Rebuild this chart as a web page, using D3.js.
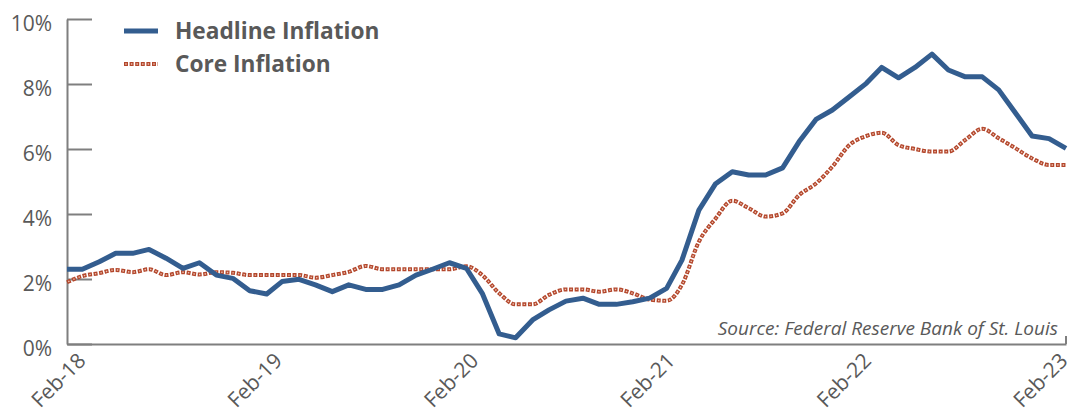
<!DOCTYPE html>
<html>
<head>
<meta charset="utf-8">
<script src="https://cdn.jsdelivr.net/npm/d3@7"></script>
<style>
  body { margin: 0; background: #fff; }
  svg text { font-family: "Open Sans", "Noto Sans", sans-serif; fill: #595959; }
</style>
</head>
<body>
<svg id="chart" width="1068" height="408"></svg>
<script>
// monthly YoY inflation, Feb-18 .. Feb-23
var headline = [2.30,2.30,2.53,2.79,2.79,2.91,2.64,2.33,2.50,2.12,2.02,1.64,
                1.54,1.92,1.99,1.82,1.61,1.82,1.68,1.68,1.82,2.12,2.30,2.50,
                2.33,1.56,0.31,0.19,0.74,1.05,1.32,1.41,1.22,1.22,1.30,1.41,
                1.71,2.58,4.12,4.92,5.30,5.20,5.20,5.42,6.22,6.91,7.20,7.61,
                8.02,8.51,8.19,8.51,8.92,8.43,8.22,8.22,7.82,7.10,6.40,6.32,
                6.02];
var core = [1.90,2.09,2.18,2.28,2.21,2.30,2.12,2.21,2.14,2.21,2.19,2.12,
            2.12,2.12,2.12,2.04,2.12,2.22,2.40,2.30,2.30,2.30,2.30,2.30,
            2.39,2.12,1.56,1.22,1.22,1.51,1.68,1.68,1.61,1.68,1.56,1.37,
            1.33,1.82,3.15,3.85,4.41,4.18,3.92,4.02,4.58,4.94,5.46,6.12,
            6.40,6.50,6.12,6.00,5.92,5.92,6.28,6.62,6.33,6.02,5.71,5.51,
            5.51];
var yTicks = [0,2,4,6,8,10];
var xLabels = ["Feb-18","Feb-19","Feb-20","Feb-21","Feb-22","Feb-23"];
var seriesNames = ["Headline Inflation","Core Inflation"];
var sourceText = "Source: Federal Reserve Bank of St. Louis";

var months = d3.timeMonth.range(new Date(2018,1,1), new Date(2023,2,1));

var blue = "#335d8f", red = "#b3472c", axisGray = "#7f7f7f";

var svg = d3.select("#chart");

var x = d3.scaleTime()
          .domain([months[0], months[months.length-1]])
          .range([67, 1066]);
var y = d3.scaleLinear().domain([0,10]).range([344, 19]);
// year labels sit on their own spacing
var labelX = d3.scaleLinear().domain([0, xLabels.length-1]).range([84, 1066]);

// y axis, ticks drawn inward
var yAxis = svg.append("g")
               .attr("transform","translate(67,0)")
               .call(d3.axisLeft(y)
                       .tickValues(yTicks)
                       .tickSizeInner(-25)
                       .tickSizeOuter(0)
                       .tickPadding(15)
                       .tickFormat(function(d){ return d + "%"; }));
yAxis.select(".domain").attr("stroke", axisGray).attr("stroke-width", 2);
yAxis.selectAll(".tick line").attr("stroke", axisGray).attr("stroke-width", 2);
yAxis.selectAll(".tick text")
     .attr("dy","0.56em")
     .style("font-size","21px")
     .style("fill","#595959");

// x axis
var xAxis = svg.append("g")
               .attr("transform","translate(0,344)")
               .call(d3.axisBottom(x).tickValues([]).tickSizeOuter(0));
xAxis.select(".domain").attr("stroke", axisGray).attr("stroke-width", 2);
xAxis.append("line")
     .attr("x1", x(months[months.length-1])).attr("x2", x(months[months.length-1]))
     .attr("y1", 0).attr("y2", -8)
     .attr("stroke", axisGray).attr("stroke-width", 2);

svg.append("g").selectAll(".xlabel")
   .data(xLabels).enter()
   .append("text")
   .attr("class","xlabel")
   .attr("transform", function(d,i){
     return "translate(" + (labelX(i)+3) + ",362) rotate(-45)";
   })
   .attr("text-anchor","end")
   .style("font-size","21px")
   .text(function(d){ return d; });

// lines
var headlineLine = d3.line()
                     .x(function(d,i){ return x(months[i]); })
                     .y(function(d){ return y(d); });
var coreLine = d3.line()
                 .curve(d3.curveMonotoneX)
                 .x(function(d,i){ return x(months[i]); })
                 .y(function(d){ return y(d); });

svg.append("path")
   .datum(core)
   .attr("d", coreLine)
   .attr("fill","none")
   .attr("stroke", red)
   .attr("stroke-width", 4)
   .attr("stroke-dasharray","4,1.6");
svg.append("path")
   .datum(core)
   .attr("d", coreLine)
   .attr("fill","none")
   .attr("stroke", "#efc2b2")
   .attr("stroke-width", 1.4)
   .attr("stroke-dasharray","1.4,4.2")
   .attr("stroke-dashoffset", -1.3);

svg.append("path")
   .datum(headline)
   .attr("d", headlineLine)
   .attr("fill","none")
   .attr("stroke", blue)
   .attr("stroke-width", 5)
   .attr("stroke-linejoin","round");

// legend
var legend = svg.append("g");
legend.append("line")
      .attr("x1",124).attr("x2",158).attr("y1",31).attr("y2",31)
      .attr("stroke", blue).attr("stroke-width",5);
legend.append("line")
      .attr("x1",124).attr("x2",158).attr("y1",64).attr("y2",64)
      .attr("stroke", red).attr("stroke-width",4)
      .attr("stroke-dasharray","4,1.6");
legend.append("line")
      .attr("x1",124).attr("x2",158).attr("y1",64).attr("y2",64)
      .attr("stroke", "#efc2b2").attr("stroke-width",1.4)
      .attr("stroke-dasharray","1.4,4.2").attr("stroke-dashoffset",-1.3);
legend.selectAll(".legtext")
      .data(seriesNames).enter()
      .append("text")
      .attr("class","legtext")
      .attr("x",175)
      .attr("y",function(d,i){ return 39 + i*33; })
      .style("font-size","22.7px")
      .style("font-weight","bold")
      .text(function(d){ return d; });

// source note
svg.append("text")
   .attr("x",1058).attr("y",335)
   .attr("text-anchor","end")
   .style("font-size","19px")
   .style("font-style","italic")
   .text(sourceText);
</script>
</body>
</html>
